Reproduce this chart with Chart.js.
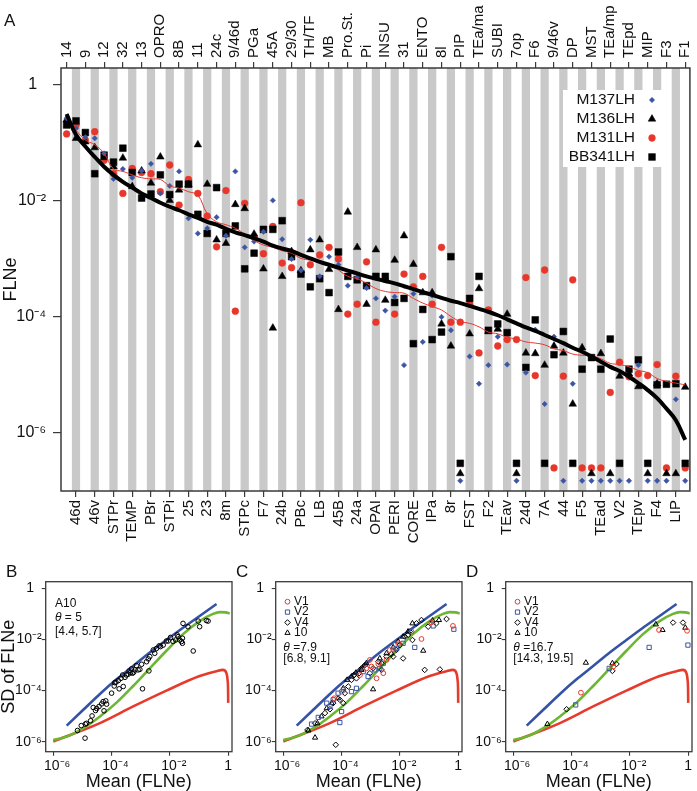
<!DOCTYPE html>
<html>
<head>
<meta charset="utf-8">
<script src="https://cdn.jsdelivr.net/npm/chart.js@4.4.1/dist/chart.umd.min.js"></script>
<style>
  body { margin: 0; background: #fff; width: 697px; height: 791px; position: relative; overflow: hidden; }
  canvas { position: absolute; }
</style>
</head>
<body>
<canvas id="chartA" width="697" height="560" style="left:0px;top:0px"></canvas>
<canvas id="chartB" width="237" height="231" style="left:0px;top:560px"></canvas>
<canvas id="chartC" width="237" height="231" style="left:230px;top:560px"></canvas>
<canvas id="chartD" width="237" height="231" style="left:460px;top:560px"></canvas>
<script>
/* ── Panel A data: areas ordered by mean FLNe, values are log10(FLNe) ───── */
const AREAS = ['14','46d','9','46v','12','STPr','32','TEMP','13','PBr',
  'OPRO','STPi','8B','25','11','23','24c','8m','9/46d','STPc',
  'PGa','F7','45A','24b','29/30','PBc','TH/TF','LB','MB','45B',
  'Pro.St.','24a','Pi','OPAI','INSU','PERI','31','CORE','ENTO','IPa',
  '8l','8r','PIP','FST','TEa/ma','F2','SUBI','TEav','7op','24d',
  'F6','7A','9/46v','44','DP','F5','MST','TEad','TEa/mp','V2',
  'TEpd','TEpv','MIP','F4','F3','LIP','F1'];

// null = no labelled neurons (plotted on the zero row under the axis)
const M137LH = [-0.575,-0.75,-0.90,-0.92,-1.18,-1.62,-1.45,-1.60,-1.48,-1.36,
  -1.87,-1.74,-1.49,-2.30,-2.56,-2.47,-2.28,-2.60,-1.49,-2.80,
  -2.70,-2.53,-1.99,-2.66,-3.00,-3.20,-2.67,-3.30,-2.96,-3.10,
  -3.46,-3.32,-3.50,-3.68,-3.89,-3.65,-4.83,-3.60,-4.43,-3.63,
  -4.00,-4.23,null,-4.68,-5.15,-4.83,-4.34,-4.82,null,-4.96,
  -4.22,-5.50,-4.34,null,-5.15,null,null,null,null,null,
  null,-4.83,null,null,null,-5.42,null];
const M136LH = [-0.60,-0.92,-0.98,-1.08,-1.25,-1.41,-1.26,-1.75,-1.48,-1.69,
  -1.24,-1.99,-1.81,-1.72,-1.03,-1.71,-2.67,-2.73,-2.06,-2.13,
  -2.57,-3.17,-4.19,-3.30,-2.87,-3.20,-2.84,-2.67,-3.18,-3.87,
  -2.19,-2.80,-3.78,-2.84,-3.71,-3.02,-2.60,-3.09,-3.58,-3.58,
  -4.12,-4.50,null,-4.29,-3.51,-4.25,-4.21,-3.95,null,-4.62,
  -4.63,-4.83,-4.50,-4.62,-5.50,-4.53,null,-4.63,null,-5.02,
  -4.98,-5.20,null,-5.15,null,null,-5.21];
const M131LH = [-0.845,-0.69,-0.95,-0.805,-1.30,-1.53,-1.87,-1.44,-1.51,-1.53,
  -1.84,-1.38,-2.07,-1.63,-1.87,-2.26,-2.79,-1.82,-3.90,-2.04,
  -2.62,-2.91,-2.44,-3.07,-3.15,-2.03,-3.10,-2.93,-2.80,-3.00,
  -3.95,-3.78,-3.05,-4.09,-3.35,-3.95,-3.26,-3.48,-3.30,-3.78,
  -2.80,-4.09,-4.09,-3.78,-4.62,-3.88,-4.50,-4.39,-4.39,-3.32,
  -5.01,-3.19,null,-5.02,-3.36,null,null,null,-5.30,-4.78,
  -5.03,-4.98,-5.01,-4.82,null,-5.02,null];
const BB341LH = [-0.69,-0.62,-0.82,-1.53,-1.21,-1.33,-1.09,-1.51,-1.95,-1.88,
  -1.55,-1.89,-1.71,-1.71,-2.23,-2.56,-1.77,-2.56,-2.43,-3.17,
  -2.90,-2.49,-2.49,-2.34,-2.96,-3.26,-3.48,-3.34,-3.58,-2.88,
  -3.30,-3.36,-3.46,-3.30,-3.30,-3.75,-3.68,-4.46,-3.87,-4.39,
  -4.26,-2.96,null,-3.68,-3.30,-4.23,-4.12,-4.27,null,-4.87,
  -4.05,null,-4.65,-4.25,null,-4.90,-4.70,-4.90,-4.38,null,
  -4.90,-4.74,null,-5.17,-5.16,-5.15,null];
// running median (red) and negative-binomial fit (black)
const MEDIAN_LINE = [-0.58,-0.78,-0.95,-1.03,-1.18,-1.45,-1.49,-1.55,-1.60,-1.62,
  -1.63,-1.74,-1.78,-1.84,-1.90,-2.22,-2.36,-2.41,-2.47,-2.57,
  -2.68,-2.76,-2.80,-2.86,-2.90,-2.99,-3.02,-3.05,-3.10,-3.19,
  -3.30,-3.34,-3.42,-3.51,-3.56,-3.58,-3.59,-3.68,-3.76,-3.82,
  -3.88,-3.99,-4.08,-4.11,-4.17,-4.26,-4.29,-4.35,-4.38,-4.43,
  -4.45,-4.48,-4.55,-4.58,-4.64,-4.66,-4.67,-4.72,-4.80,-4.82,
  -4.86,-4.92,-4.96,-5.06,-5.11,-5.14,-5.17];
const FIT_LINE = [-0.50,-0.86,-1.06,-1.24,-1.41,-1.55,-1.67,-1.77,-1.87,-1.95,
  -2.03,-2.10,-2.16,-2.23,-2.29,-2.36,-2.41,-2.48,-2.54,-2.59,
  -2.64,-2.70,-2.77,-2.82,-2.86,-2.93,-2.99,-3.05,-3.10,-3.15,
  -3.20,-3.25,-3.30,-3.34,-3.38,-3.42,-3.47,-3.52,-3.57,-3.62,
  -3.67,-3.72,-3.76,-3.81,-3.86,-3.91,-3.97,-4.04,-4.11,-4.18,
  -4.24,-4.31,-4.38,-4.45,-4.53,-4.60,-4.68,-4.77,-4.86,-4.93,
  -5.03,-5.14,-5.26,-5.40,-5.58,-5.78,-6.12];

const Y_TICKS_A = [1, 1e-2, 1e-4, 1e-6];
const Y_LABELS_A = ['1  ', '10\u207B\u00B2', '10\u207B\u2074', '10\u207B\u2076'];

/* ── Panels B–D data: [log10 mean, log10 SD] ─────────────────────────────── */
const B_A10 = [[-5.17,-5.56],[-5.04,-5.37],[-4.90,-5.31],[-4.86,-5.28],[-4.72,-5.18],[-4.67,-4.99],[-4.63,-4.66],
  [-4.55,-4.78],[-4.51,-4.70],[-4.43,-4.62],[-4.34,-4.52],[-4.29,-4.43],[-4.26,-4.79],[-4.20,-4.40],[-4.17,-4.53],
  [-4.00,-4.10],[-3.91,-3.82],[-3.89,-3.69],[-3.85,-3.67],[-3.77,-3.61],[-3.74,-3.93],[-3.68,-3.52],[-3.62,-3.39],
  [-3.60,-3.84],[-3.54,-3.48],[-3.49,-3.39],[-3.43,-3.36],[-3.40,-3.23],[-3.35,-3.30],[-3.32,-3.15],[-3.28,-3.32],
  [-3.24,-3.28],[-3.20,-3.19],[-3.15,-3.02],[-3.09,-3.19],[-3.03,-3.17],[-2.97,-2.97],[-2.94,-3.93],[-2.80,-2.87],
  [-2.74,-2.76],[-2.72,-3.23],[-2.69,-2.67],[-2.57,-2.41],[-2.52,-2.54],[-2.46,-2.35],[-2.37,-2.25],[-2.32,-2.28],
  [-2.23,-2.22],[-2.12,-2.06],[-2.06,-2.06],[-1.98,-1.92],[-1.89,-2.08],[-1.80,-2.02],[-1.75,-1.82],[-1.72,-1.89],
  [-1.66,-2.02],[-1.60,-2.08],[-1.57,-1.95],[-1.57,-2.15],[-1.55,-1.37],[-1.38,-1.50],[-1.20,-2.45],[-1.03,-1.28],
  [-0.98,-1.50],[-0.75,-1.26],[-0.69,-1.28],[-4.91,-5.86]];

const C_V1 = [[-4.25,-4.30],[-4.00,-4.04],[-3.37,-3.39],[-3.15,-3.13],[-2.97,-3.06],[-2.80,-3.52],[-2.57,-3.32],
  [-2.46,-2.80],[-2.35,-2.41],[-2.23,-2.39],[-2.06,-2.15],[-1.60,-1.69],[-1.26,-1.98],[-0.92,-1.33],[-0.18,-1.47],
  [-3.03,-2.80],[-2.74,-2.96]];
const C_V2 = [[-5.03,-5.31],[-4.80,-5.05],[-4.51,-4.49],[-4.40,-4.62],[-4.29,-4.36],[-4.12,-4.10],[-4.06,-5.25],
  [-3.94,-3.97],[-3.66,-4.04],[-3.49,-3.91],[-3.26,-3.26],[-3.09,-3.45],[-2.86,-3.19],[-2.69,-3.13],[-2.57,-2.93],
  [-2.12,-2.35],[-1.89,-2.15],[-1.49,-2.31],[-0.86,-1.47],[-0.15,-1.60],[-4.00,-4.82]];
const C_V4 = [[-5.17,-5.54],[-4.91,-5.28],[-4.57,-4.88],[-4.40,-4.73],[-4.29,-4.49],[-4.20,-6.12],[-4.06,-4.36],
  [-3.94,-4.49],[-3.89,-4.10],[-3.77,-3.84],[-3.66,-3.58],[-3.58,-3.39],[-3.49,-3.52],[-3.40,-3.32],[-3.32,-3.13],
  [-3.20,-3.00],[-3.03,-3.32],[-2.92,-3.13],[-2.74,-2.87],[-2.63,-3.19],[-2.46,-2.67],[-2.29,-2.57],[-2.12,-2.41],
  [-2.00,-2.22],[-1.89,-2.74],[-1.83,-1.89],[-1.72,-1.82],[-1.66,-1.69],[-1.57,-2.02],[-1.43,-1.37],[-1.26,-1.24],
  [-1.15,-3.19],[-1.03,-1.50],[-0.75,-1.37],[-0.63,-3.17],[-0.40,-1.20],[-2.63,-2.93],[-2.23,-2.67]];
const C_A10 = [[-5.14,-5.56],[-4.91,-5.84],[-4.83,-5.28],[-4.69,-5.01],[-4.51,-4.69],[-4.34,-4.49],[-4.12,-4.30],
  [-3.94,-3.91],[-3.81,-3.58],[-3.66,-3.45],[-3.51,-3.30],[-3.32,-3.19],[-3.15,-2.93],[-2.92,-3.95],[-2.69,-2.74],
  [-2.46,-2.54],[-2.23,-2.31],[-2.06,-2.08],[-1.89,-1.89],[-1.72,-1.69],[-1.57,-1.37],[-1.20,-2.44],[-0.88,-1.26],
  [-0.66,-1.24]];

const D_V1 = [[-3.68,-4.08],[-2.57,-3.06],[-1.00,-1.63],[-0.04,-1.66]];
const D_V2 = [[-3.86,-4.56],[-2.71,-3.13],[-1.34,-2.31],[-0.01,-2.22]];
const D_V4 = [[-4.17,-4.73],[-2.60,-3.23],[-2.46,-2.96],[-0.52,-1.34],[-0.18,-1.34]];
const D_A10 = [[-4.83,-5.31],[-3.51,-2.91],[-2.60,-2.93],[-1.11,-1.41],[-0.88,-1.63],[-0.10,-1.54]];

// model curves, same in B, C and D
const CURVE_BLUE = [[-5.54,-5.37],[-4.97,-4.75],[-4.40,-4.13],[-3.83,-3.56],[-3.26,-3.04],[-2.69,-2.51],
  [-2.12,-2.02],[-1.55,-1.54],[-0.98,-1.08],[-0.40,-0.61]];
const CURVE_GREEN = [[-6.00,-5.93],[-5.54,-5.80],[-4.97,-5.47],[-4.40,-5.01],[-3.83,-4.47],[-3.26,-3.82],
  [-2.69,-3.13],[-2.12,-2.44],[-1.55,-1.79],[-0.98,-1.28],[-0.52,-1.00],[-0.29,-0.93],[-0.09,-0.94],[0.05,-0.98]];
const CURVE_RED = [[-6.00,-5.99],[-4.40,-5.27],[-3.26,-4.62],[-2.12,-4.00],[-0.98,-3.43],[-0.40,-3.24],
  [-0.18,-3.19],[-0.06,-3.32],[-0.02,-3.60],[-0.005,-3.95],[0.0,-4.48]];

const LOG_TICKS = [1e-6, 1e-4, 1e-2, 1];
const X_LABELS_BD = ['  10\u207B\u2076', '  10\u207B\u2074', '  10\u207B\u00B2', '1'];
const Y_LABELS_BD = ['10\u207B\u2076', '10\u207B\u2074', '10\u207B\u00B2', '1  '];

/* ── Styling ──────────────────────────────────────────────────────────────── */
const FONT   = "'Liberation Sans', Arial, Helvetica, sans-serif";
const INK    = '#111111';
const FRAME  = '#3a3a3a';
const STRIPE = '#c9c9c9';
const BLUE   = '#3c55a5';
const RED    = '#e8362b';
const CURVE_COLORS = { blue: '#3553a6', green: '#6cb631', red: '#e63b2c' };

Chart.defaults.font.family = FONT;
Chart.defaults.color = INK;

const p10 = e => Math.pow(10, e);

function mark(ctx, style, radius, x, y) {
  if (Chart.helpers && Chart.helpers.drawPoint) {
    Chart.helpers.drawPoint(ctx, { pointStyle: style, radius, borderWidth: ctx.lineWidth, rotation: 0 }, x, y);
  }
}

/* ── Panel A ──────────────────────────────────────────────────────────────── */
const SERIES_A = [
  { label: 'M137LH',  values: M137LH,  zero: 1.5e-7, style: 'rectRot',  radius: 2.7, color: BLUE },
  { label: 'M136LH',  values: M136LH,  zero: 2.0e-7, style: 'triangle', radius: 4.4, color: '#000' },
  { label: 'M131LH',  values: M131LH,  zero: 2.5e-7, style: 'circle',   radius: 3.4, color: RED },
  { label: 'BB341LH', values: BB341LH, zero: 3.0e-7, style: 'rect',     radius: 4.8, color: '#000' },
];

const scatterSet = s => ({
  type: 'scatter',
  data: s.values.map((e, i) => ({ x: i, y: e === null ? s.zero : p10(e) })),
  pointStyle: s.style, pointRadius: s.radius,
  pointBackgroundColor: s.color, pointBorderColor: s.color, pointBorderWidth: 0.5,
});

const lineSet = (values, color, width) => ({
  type: 'line',
  data: values.map((e, i) => ({ x: i, y: p10(e) })),
  borderColor: color, borderWidth: width, pointRadius: 0, tension: 0.4, fill: false,
});

// bottom axis labels odd areas; top axis (labels drawn by the plugin) even areas
const catAxis = (position, parity) => ({
  type: 'linear', position, min: -0.6, max: 66.5,
  afterBuildTicks: s => { s.ticks = AREAS.map((_, i) => ({ value: i })).filter(t => t.value % 2 === parity); },
  afterFit: s => { s.height = position === 'top' ? 68 : 69; },
  grid: { drawOnChartArea: false, tickLength: 6, color: FRAME, lineWidth: 1.2 },
  border: { display: false },
  ticks: { display: position === 'bottom', autoSkip: false, minRotation: 90, maxRotation: 90, padding: 3,
           font: { size: 15 }, color: INK, callback: v => AREAS[v] },
});

const panelADecor = {
  id: 'panelADecor',
  beforeDatasetsDraw(chart) {
    const { ctx, chartArea: a, scales: { x } } = chart;
    const w = 0.88 * (x.getPixelForValue(1) - x.getPixelForValue(0));
    ctx.save();
    ctx.fillStyle = STRIPE;
    AREAS.forEach((_, i) => {
      if (i % 2 === 1) ctx.fillRect(x.getPixelForValue(i) - w / 2, a.top, w, a.bottom - a.top);
    });
    // legend sits on a white patch
    ctx.fillStyle = '#fff';
    ctx.fillRect(563, 90, 102, 77);
    ctx.restore();
  },
  afterDraw(chart) {
    const { ctx, chartArea: a, scales: { xTop } } = chart;
    ctx.save();
    ctx.strokeStyle = FRAME;
    ctx.lineWidth = 1.5;
    ctx.strokeRect(a.left, a.top, a.right - a.left, a.bottom - a.top);

    // top tick labels, reading upwards from the tick
    ctx.fillStyle = INK;
    ctx.font = '15px ' + FONT;
    ctx.textAlign = 'left';
    ctx.textBaseline = 'middle';
    AREAS.forEach((name, i) => {
      if (i % 2 !== 0) return;
      ctx.save();
      ctx.translate(xTop.getPixelForValue(i), a.top - 10);
      ctx.rotate(-Math.PI / 2);
      ctx.fillText(name, 0, 0);
      ctx.restore();
    });

    ctx.font = '15.5px ' + FONT;
    ctx.textAlign = 'right';
    SERIES_A.forEach((s, k) => {
      const y = 100 + 19 * k;
      ctx.fillStyle = INK;
      ctx.fillText(s.label, 635, y);
      ctx.fillStyle = s.color;
      ctx.strokeStyle = s.color;
      ctx.lineWidth = 0.5;
      mark(ctx, s.style, s.radius, 652, y);
    });

    ctx.fillStyle = INK;
    ctx.textAlign = 'left';
    ctx.font = '17px ' + FONT;
    ctx.fillText('A', 4, 21);
    ctx.restore();
  }
};

new Chart(document.getElementById('chartA'), {
  type: 'scatter',
  data: {
    datasets: [
      lineSet(FIT_LINE, '#000', 4),
      lineSet(MEDIAN_LINE, RED, 1),
      scatterSet(SERIES_A[0]),
      scatterSet(SERIES_A[3]),
      scatterSet(SERIES_A[1]),
      scatterSet(SERIES_A[2]),
    ]
  },
  options: {
    responsive: false,
    animation: false,
    devicePixelRatio: 1,
    layout: { padding: { top: 0, right: 4, bottom: 0, left: 0 } },
    plugins: { legend: { display: false }, tooltip: { enabled: false } },
    scales: {
      x: catAxis('bottom', 1),
      xTop: catAxis('top', 0),
      y: {
        type: 'logarithmic', min: 1e-7, max: 1.96,
        afterBuildTicks: s => { s.ticks = Y_TICKS_A.map(v => ({ value: v })); },
        afterFit: s => { s.width = 61; },
        grid: { drawOnChartArea: false, tickLength: 8, color: FRAME, lineWidth: 1.2 },
        border: { display: false },
        ticks: { padding: 7, font: { size: 16 }, color: INK,
                 callback: v => Y_LABELS_A[Y_TICKS_A.indexOf(v)] },
        title: { display: true, text: 'FLNe', font: { size: 18 }, color: INK, padding: 0 },
      }
    }
  },
  plugins: [panelADecor]
});

/* ── Panels B–D ───────────────────────────────────────────────────────────── */
const curveSet = (pairs, color) => ({
  type: 'line',
  data: pairs.map(([a, b]) => ({ x: p10(a), y: p10(b) })),
  borderColor: color, borderWidth: 2.6, pointRadius: 0,
  cubicInterpolationMode: 'monotone', fill: false,
});

const openSet = (pairs, style, radius, color) => ({
  type: 'scatter',
  data: pairs.map(([a, b]) => ({ x: p10(a), y: p10(b) })),
  pointStyle: style, pointRadius: radius,
  pointBackgroundColor: 'rgba(0,0,0,0)', pointBorderColor: color, pointBorderWidth: 1,
});

const AREA_STYLES = {
  V1:  { style: 'circle',   radius: 2.4, color: RED },
  V2:  { style: 'rect',     radius: 3.0, color: BLUE },
  V4:  { style: 'rectRot',  radius: 2.8, color: '#000' },
  '10': { style: 'triangle', radius: 3.0, color: '#000' },
};

function logPanel(id, letter, groups, legend, notes, showYTitle) {
  const decor = {
    id: 'decor' + letter,
    afterDraw(chart) {
      const { ctx, chartArea: a } = chart;
      ctx.save();
      ctx.strokeStyle = FRAME;
      ctx.lineWidth = 1.3;
      ctx.strokeRect(a.left, a.top, a.right - a.left, a.bottom - a.top);

      ctx.fillStyle = INK;
      ctx.textBaseline = 'middle';
      ctx.textAlign = 'left';
      ctx.font = '17px ' + FONT;
      ctx.fillText(letter, 6, 12);

      ctx.font = '12px ' + FONT;
      legend.forEach((name, k) => {
        const st = AREA_STYLES[name];
        const y = 41.7 + 10.4 * k;
        ctx.strokeStyle = st.color;
        ctx.fillStyle = 'rgba(0,0,0,0)';
        ctx.lineWidth = 1;
        mark(ctx, st.style, st.radius, 57.5, y);
        ctx.fillStyle = INK;
        ctx.fillText(name, 64, y);
      });

      notes.lines.forEach((line, k) => {
        const y = notes.y0 + notes.step * k;
        let x = notes.x;
        ctx.fillStyle = INK;
        if (line.theta !== undefined) {
          ctx.font = 'italic 12px ' + FONT;
          ctx.fillText('\u03B8', x, y);
          x += ctx.measureText('\u03B8').width;
          ctx.font = '12px ' + FONT;
          ctx.fillText(line.theta, x, y);
        } else {
          ctx.font = '12px ' + FONT;
          ctx.fillText(line, x, y);
        }
      });
      ctx.restore();
    }
  };

  new Chart(document.getElementById(id), {
    type: 'scatter',
    data: {
      datasets: [
        ...groups.map(g => openSet(g.pairs, g.style, g.radius, g.color)),
        curveSet(CURVE_BLUE, CURVE_COLORS.blue),
        curveSet(CURVE_GREEN, CURVE_COLORS.green),
        curveSet(CURVE_RED, CURVE_COLORS.red),
      ]
    },
    options: {
      responsive: false,
      animation: false,
      devicePixelRatio: 1,
      layout: { padding: { top: 21.7, right: 5, bottom: 0, left: 0 } },
      plugins: { legend: { display: false }, tooltip: { enabled: false } },
      scales: {
        x: {
          type: 'logarithmic', min: p10(-6.26), max: p10(0.13),
          afterBuildTicks: s => { s.ticks = LOG_TICKS.map(v => ({ value: v })); },
          afterFit: s => { s.height = 39.3; },
          grid: { drawOnChartArea: false, tickLength: 4, color: FRAME, lineWidth: 1.1 },
          border: { display: false },
          ticks: { padding: 2, font: { size: 14 }, color: INK, maxRotation: 0,
                   callback: v => X_LABELS_BD[LOG_TICKS.indexOf(v)] },
          title: { display: true, text: 'Mean (FLNe)', font: { size: 18, lineHeight: 1 }, color: INK, padding: 0 },
        },
        y: {
          type: 'logarithmic', min: p10(-6.39), max: p10(0.26),
          afterBuildTicks: s => { s.ticks = LOG_TICKS.map(v => ({ value: v })); },
          afterFit: s => { s.width = 45.7; },
          grid: { drawOnChartArea: false, tickLength: 4, color: FRAME, lineWidth: 1.1 },
          border: { display: false },
          ticks: { padding: 0, font: { size: 14 }, color: INK,
                   callback: v => Y_LABELS_BD[LOG_TICKS.indexOf(v)] },
          title: { display: showYTitle, text: 'SD of FLNe', font: { size: 18, lineHeight: 1 }, color: INK, padding: 0 },
        }
      }
    },
    plugins: [decor]
  });
}

const g = (pairs, name) => Object.assign({ pairs }, AREA_STYLES[name]);

logPanel('chartB', 'B',
  [{ pairs: B_A10, style: 'circle', radius: 2.3, color: '#000' }],
  [],
  { x: 55, y0: 43.3, step: 14, lines: ['A10', { theta: ' = 5' }, '[4.4, 5.7]'] },
  true);

logPanel('chartC', 'C',
  [g(C_V1, 'V1'), g(C_V2, 'V2'), g(C_V4, 'V4'), g(C_A10, '10')],
  ['V1', 'V2', 'V4', '10'],
  { x: 53.3, y0: 87.3, step: 11, lines: [{ theta: ' =7.9' }, '[6.8, 9.1]'] },
  false);

logPanel('chartD', 'D',
  [g(D_V1, 'V1'), g(D_V2, 'V2'), g(D_V4, 'V4'), g(D_A10, '10')],
  ['V1', 'V2', 'V4', '10'],
  { x: 53.3, y0: 87.3, step: 11, lines: [{ theta: ' =16.7' }, '[14.3, 19.5]'] },
  false);
</script>
</body>
</html>
